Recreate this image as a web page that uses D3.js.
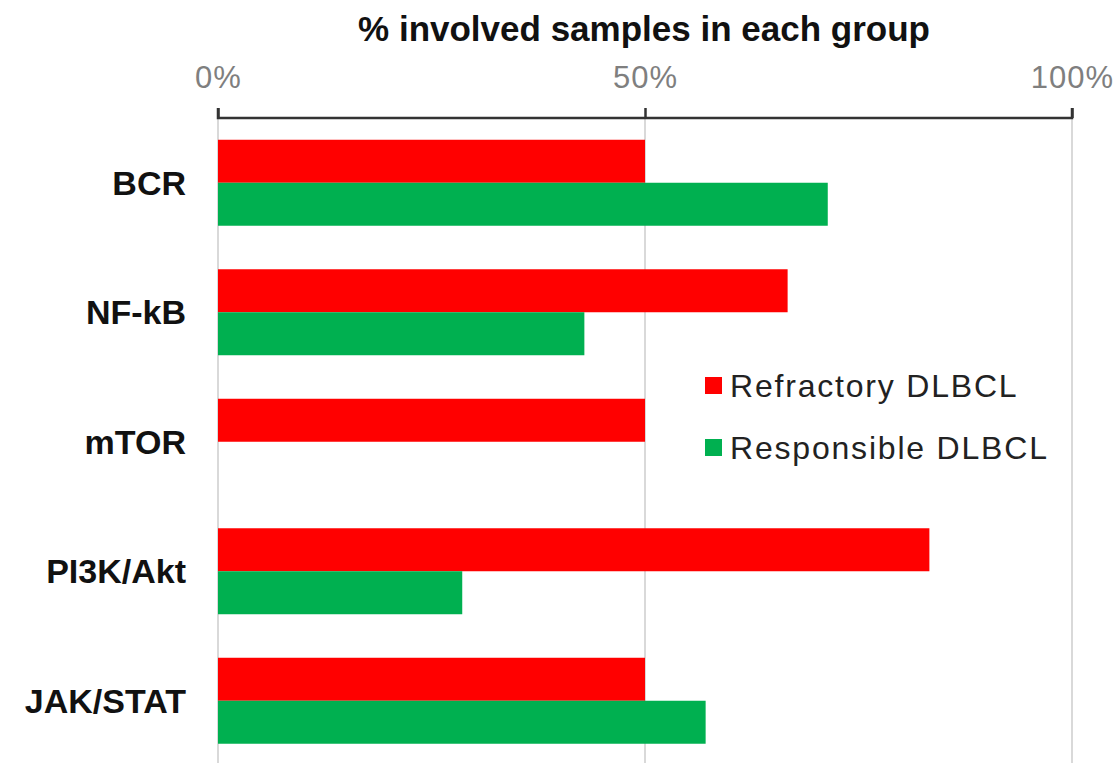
<!DOCTYPE html>
<html>
<head>
<meta charset="utf-8">
<script src="https://cdn.jsdelivr.net/npm/d3@7"></script>
<style>
  body { margin: 0; background: #fff; }
  svg { display: block; font-family: "Liberation Sans", Arial, sans-serif; }
</style>
</head>
<body>
<div id="chart"></div>
<script>
const categories = ["BCR", "NF-kB", "mTOR", "PI3K/Akt", "JAK/STAT"];
const refractory = [50.0, 66.7, 50.0, 83.3, 50.0];
const responsible = [71.4, 42.9, 0, 28.6, 57.1];
const seriesNames = ["Refractory DLBCL", "Responsible DLBCL"];
const seriesColors = ["#ff0000", "#00b050"];
const tickValues = [0, 50, 100];

const width = 1117, height = 763;
const margin = { top: 118, right: 45, bottom: 0, left: 218 };

const svg = d3.select("#chart").append("svg")
  .attr("width", width).attr("height", height);

// escalas
const x = d3.scaleLinear().domain([0, 100]).range([margin.left, width - margin.right]);
const y = d3.scaleBand().domain(categories)
  .range([margin.top, margin.top + 647.5])
  .paddingInner(0.336).paddingOuter(0.168);
const ySub = d3.scaleBand().domain(seriesNames).range([0, y.bandwidth()]);

// lineas de cuadricula verticales
svg.append("g").selectAll("line")
  .data(tickValues)
  .join("line")
  .attr("x1", d => x(d)).attr("x2", d => x(d))
  .attr("y1", margin.top).attr("y2", height)
  .attr("stroke", "#d9d9d9").attr("stroke-width", 2);

// barras
const rows = categories.map((c, i) => ({ cat: c, vals: [refractory[i], responsible[i]] }));
const grp = svg.append("g").selectAll("g")
  .data(rows)
  .join("g")
  .attr("transform", d => `translate(0,${y(d.cat)})`);

grp.selectAll("rect")
  .data(d => d.vals.map((v, j) => ({ v, name: seriesNames[j], color: seriesColors[j] })))
  .join("rect")
  .attr("x", x(0))
  .attr("y", d => ySub(d.name))
  .attr("width", d => x(d.v) - x(0))
  .attr("height", ySub.bandwidth())
  .attr("fill", d => d.color);

// eje superior
const axis = svg.append("g")
  .attr("transform", `translate(0,${margin.top})`)
  .call(d3.axisTop(x).tickValues(tickValues).tickFormat(d => d + "%").tickSize(10).tickPadding(20));
axis.select(".domain").attr("stroke", "#333").attr("stroke-width", 2.5)
  .attr("d", `M${x(0)},${-10}V0H${x(100)}V${-10}`);
axis.selectAll(".tick line").attr("stroke", "#333").attr("stroke-width", 2.5);
axis.selectAll(".tick text")
  .attr("fill", "#7f7f7f")
  .style("font-size", "31px")
  .style("letter-spacing", "1px");

// etiquetas de categoria
svg.append("g").selectAll("text")
  .data(categories)
  .join("text")
  .attr("x", 186)
  .attr("y", d => y(d) + y.bandwidth() / 2)
  .attr("dy", "0.35em")
  .attr("text-anchor", "end")
  .style("font-size", "34px")
  .style("font-weight", "bold")
  .attr("fill", "#111")
  .text(d => d);

// titulo
svg.append("text")
  .attr("x", 644).attr("y", 41)
  .attr("text-anchor", "middle")
  .style("font-size", "35px")
  .style("font-weight", "bold")
  .attr("fill", "#111")
  .text("% involved samples in each group");

// leyenda
const legend = svg.append("g").attr("transform", "translate(705,386)");
const items = legend.selectAll("g")
  .data(seriesNames)
  .join("g")
  .attr("transform", (d, i) => `translate(0,${i * 62})`);
items.append("rect")
  .attr("x", 0).attr("y", -9)
  .attr("width", 17).attr("height", 17)
  .attr("fill", (d, i) => seriesColors[i]);
items.append("text")
  .attr("x", 25).attr("y", 0)
  .attr("dy", "0.35em")
  .style("font-size", "32px")
  .style("letter-spacing", "1.8px")
  .attr("fill", "#222")
  .text(d => d);
</script>
</body>
</html>
